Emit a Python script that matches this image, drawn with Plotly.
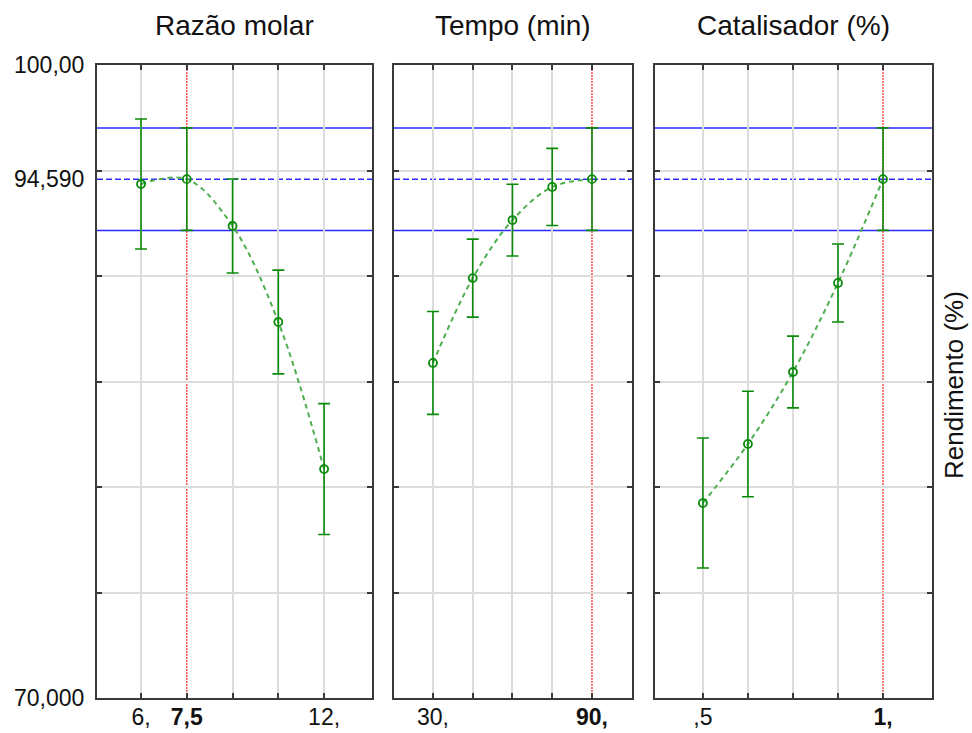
import plotly.graph_objects as go

# Factor levels and predicted yield (%) with confidence half-widths
razao_x = [6, 7.5, 9, 10.5, 12]
razao_y = [94.36, 94.59, 92.37, 87.82, 80.85]
razao_err = [3.08, 2.43, 2.23, 2.46, 3.10]

tempo_x = [30, 45, 60, 75, 90]
tempo_y = [85.88, 89.90, 92.65, 94.22, 94.59]
tempo_err = [2.44, 1.85, 1.70, 1.83, 2.43]

cat_x = [0.5, 0.625, 0.75, 0.875, 1.0]
cat_y = [79.24, 82.04, 85.45, 89.67, 94.59]
cat_err = [3.08, 2.50, 1.70, 1.85, 2.43]

titles = ["Razão molar", "Tempo (min)", "Catalisador (%)"]
x_ticktext = [
    ["6,", "<b>7,5</b>", "", "", "12,"],
    ["30,", "", "", "", "<b>90,</b>"],
    [",5", "", "", "", "<b>1,</b>"],
]
optimum_x = [7.5, 90, 1.0]

y_opt = 94.59
y_half = 2.43
y_grid = [75, 80, 85, 90, 95]
y_ticks = [70, 94.59, 100]
y_ticktext = ["70,000", "94,590", "100,00"]

W, H = 972, 733
px_domains = [(97, 372), (394, 632), (655, 932)]
x_ranges = [(4.557, 13.57), (15.3, 105.1), (0.367, 1.136)]
y_dom = [1 - 698 / H, 1 - 65 / H]

FONT = "Liberation Sans, Arial, sans-serif"
FRAME = "#3a3a3a"
GRID = "#dcdcdc"
GREEN = "#0a8a0a"
CURVE = "#4fae4f"
BLUE = "#2a2aff"

fig = go.Figure()
series = [(razao_x, razao_y, razao_err), (tempo_x, tempo_y, tempo_err), (cat_x, cat_y, cat_err)]

for i, (xs, ys, es) in enumerate(series):
    xa = "x" if i == 0 else f"x{i+1}"
    ya = "y" if i == 0 else f"y{i+1}"
    fig.add_trace(go.Scatter(
        x=xs, y=ys, xaxis=xa, yaxis=ya, mode="lines",
        line=dict(color=CURVE, width=2, dash="5px,4px", shape="spline"),
        hoverinfo="skip", showlegend=False,
    ))
    fig.add_trace(go.Scatter(
        x=xs, y=ys, xaxis=xa, yaxis=ya, mode="markers",
        marker=dict(symbol="circle-open", size=8, color=GREEN, line=dict(width=1.8, color=GREEN)),
        error_y=dict(type="data", array=es, visible=True, color=GREEN, thickness=1.6, width=6),
        showlegend=False,
    ))

    # Confidence band of the optimum: limits (solid) and value (dashed)
    for yv, dash in [(y_opt + y_half, "solid"), (y_opt - y_half, "solid"), (y_opt, "6px,3px")]:
        fig.add_shape(type="line", xref=f"{xa} domain", yref=ya, x0=0, x1=1, y0=yv, y1=yv,
                      line=dict(color=BLUE, width=1.5, dash=dash), layer="below")
    # Optimum level marker
    fig.add_shape(type="line", xref=xa, yref=f"{ya} domain", x0=optimum_x[i], x1=optimum_x[i],
                  y0=0, y1=1, line=dict(color="#ff2020", width=1.2, dash="2px,1px"), layer="below")

    d0, d1 = px_domains[i]
    axis_common = dict(showline=True, linecolor=FRAME, linewidth=2, mirror="ticks",
                       ticks="inside", ticklen=5, tickcolor=FRAME, tickwidth=1.5,
                       zeroline=False, automargin=False)
    grid_x = [v for v in xs if v != optimum_x[i]]
    fig.layout[("xaxis" if i == 0 else f"xaxis{i+1}")] = dict(
        domain=[d0 / W, d1 / W], range=list(x_ranges[i]), anchor=ya,
        tickvals=xs, ticktext=x_ticktext[i], showgrid=False, ticklabelstandoff=-3,
        minor=dict(tickvals=grid_x, showgrid=True, gridcolor=GRID, gridwidth=1.5, ticks=""),
        tickfont=dict(family=FONT, size=23, color="#111"), **axis_common,
    )
    fig.layout[("yaxis" if i == 0 else f"yaxis{i+1}")] = dict(
        domain=y_dom, range=[70, 100], anchor=xa,
        tickvals=y_ticks, ticktext=y_ticktext, showticklabels=(i == 0),
        showgrid=False, ticklabelstandoff=6,
        minor=dict(tickvals=y_grid, showgrid=True, gridcolor=GRID, gridwidth=1.5,
                   ticks="inside", ticklen=5, tickcolor=FRAME, tickwidth=1.5),
        tickfont=dict(family=FONT, size=23, color="#111"), **axis_common,
    )
    fig.layout[("yaxis" if i == 0 else f"yaxis{i+1}")].ticks = ""

    fig.add_annotation(text=titles[i], xref="paper", yref="paper", x=(d0 + d1) / 2 / W,
                       y=1 - 26 / H, showarrow=False, xanchor="center", yanchor="middle",
                       font=dict(family=FONT, size=28, color="#111"))

fig.add_annotation(text="Rendimento (%)", xref="paper", yref="paper", x=954 / W, y=1 - 385 / H,
                   showarrow=False, textangle=-90, xanchor="center", yanchor="middle",
                   font=dict(family=FONT, size=26, color="#111"))

fig.update_layout(width=W, height=H, margin=dict(l=0, r=0, t=0, b=0),
                  paper_bgcolor="white", plot_bgcolor="rgba(0,0,0,0)", showlegend=False)
fig.write_html("out.html")
